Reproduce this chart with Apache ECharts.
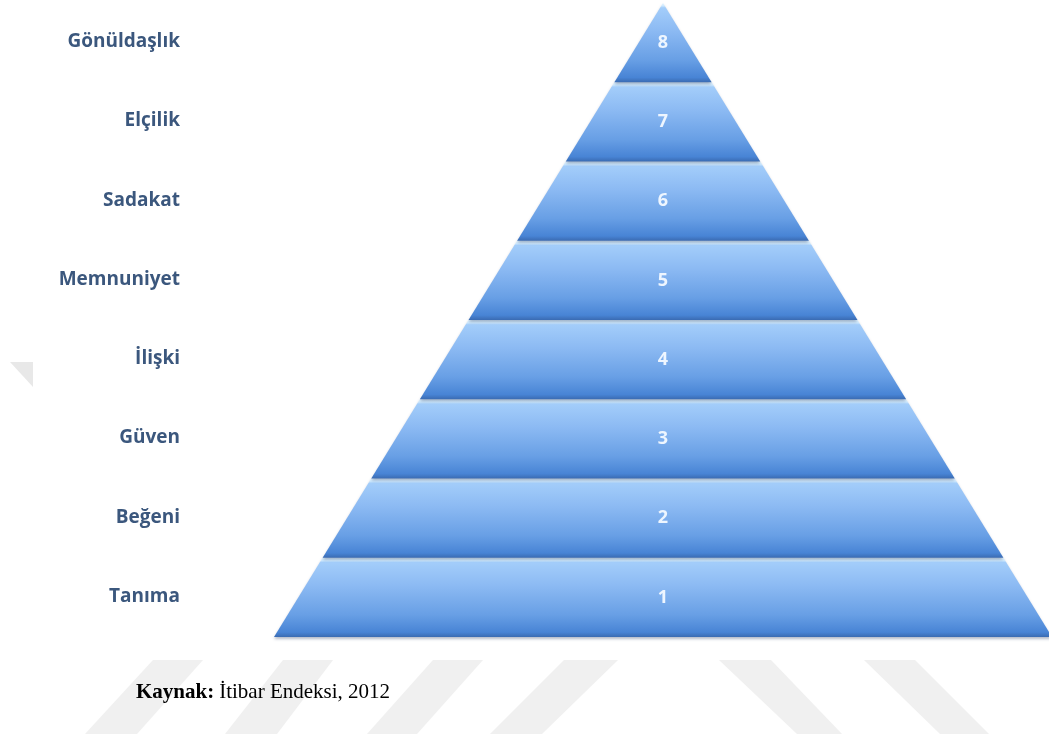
<!DOCTYPE html>
<html>
<head>
<meta charset="utf-8">
<script src="https://cdn.jsdelivr.net/npm/echarts@6/dist/echarts.min.js"></script>
<style>
html,body{margin:0;padding:0;background:#fff;}
#chart{width:1049px;height:738px;}
</style>
</head>
<body>
<div id="chart"></div>
<script>
// Levels listed from bottom to top of the pyramid
const categories = ['Tanıma', 'Beğeni', 'Güven', 'İlişki', 'Memnuniyet', 'Sadakat', 'Elçilik', 'Gönüldaşlık'];
const levels = [1, 2, 3, 4, 5, 6, 7, 8];
const widths = [8, 7, 6, 5, 4, 3, 2, 1];
const captionBold = 'Kaynak:';
const captionText = 'İtibar Endeksi, 2012';

const chart = echarts.init(document.getElementById('chart'), null, {renderer: 'canvas'});

const bandGradient = new echarts.graphic.LinearGradient(0, 0, 0, 1, [
  {offset: 0, color: '#e2f4ff'},
  {offset: 0.035, color: '#cfeaff'},
  {offset: 0.06, color: '#a3cdfa'},
  {offset: 0.35, color: '#8cbaf3'},
  {offset: 0.72, color: '#689fe5'},
  {offset: 0.94, color: '#4884d5'},
  {offset: 1, color: '#3a6bb2'}
]);

const stripeColor = '#f0f0f0';
function poly(points, color) {
  return {type: 'polygon', silent: true, z: -10, shape: {points: points}, style: {fill: color}};
}

const option = {
  backgroundColor: '#ffffff',
  animation: false,
  graphic: [
    poly([[153, 660], [203, 660], [137, 734], [85, 734]], stripeColor),
    poly([[283, 660], [333, 660], [277, 734], [225, 734]], stripeColor),
    poly([[433, 660], [483, 660], [417, 734], [367, 734]], stripeColor),
    poly([[564, 660], [618, 660], [542, 734], [490, 734]], stripeColor),
    poly([[719, 660], [771, 660], [842, 734], [797, 734]], stripeColor),
    poly([[864, 660], [915, 660], [989, 734], [940, 734]], stripeColor),
    poly([[10, 362], [33, 362], [33, 387]], '#e8e8e8')
  ],
  title: {
    left: 131,
    top: 677,
    text: '{b|' + captionBold + '} {r|' + captionText + '}',
    textStyle: {
      rich: {
        b: {fontFamily: 'Liberation Serif', fontWeight: 'bold', fontSize: 21, color: '#000'},
        r: {fontFamily: 'Liberation Serif', fontWeight: 'normal', fontSize: 21, color: '#000'}
      }
    }
  },
  grid: {left: 188, top: 2, height: 634, width: 10},
  xAxis: {type: 'value', show: false},
  yAxis: {
    type: 'category',
    data: categories,
    axisLine: {show: false},
    axisTick: {show: false},
    splitLine: {show: false},
    axisLabel: {
      interval: 0,
      margin: 8,
      color: '#3b577d',
      fontFamily: 'Open Sans',
      fontWeight: 'bold',
      fontSize: 19
    }
  },
  series: [{
    type: 'funnel',
    sort: 'ascending',
    left: 274,
    top: 3,
    width: 778,
    height: 634,
    min: 0,
    max: 8,
    minSize: '0%',
    maxSize: '100%',
    gap: 0,
    funnelAlign: 'center',
    label: {
      show: true,
      position: 'inside',
      formatter: function (p) { return String(levels[p.dataIndex]); },
      color: '#eef6ff',
      fontFamily: 'Open Sans',
      fontWeight: 'bold',
      fontSize: 18
    },
    labelLine: {show: false},
    itemStyle: {
      color: bandGradient,
      borderWidth: 0,
      shadowColor: 'rgba(40,60,100,0.35)',
      shadowBlur: 3,
      shadowOffsetY: 2
    },
    emphasis: {disabled: true},
    data: categories.map(function (c, i) { return {name: c, value: widths[i]}; })
  }]
};
chart.setOption(option);
</script>
</body>
</html>
